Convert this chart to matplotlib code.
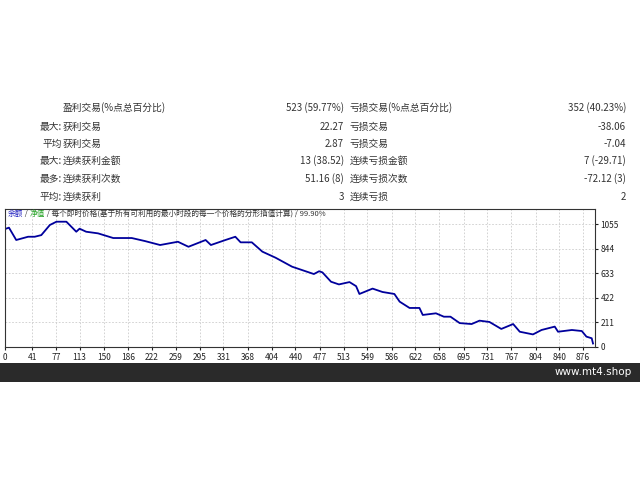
import numpy as np
import matplotlib.pyplot as plt

plt.rcParams['font.family'] = ['Noto Sans CJK SC', 'DejaVu Sans']

# stats table
left_head = ["", "最大:", "平均", "最大:", "最多:", "平均:"]
left_label = ["盈利交易(%点总百分比)", "获利交易", "获利交易", "连续获利金额", "连续获利次数", "连续获利"]
left_value = ["523 (59.77%)", "22.27", "2.87", "13 (38.52)", "51.16 (8)", "3"]
right_label = ["亏损交易(%点总百分比)", "亏损交易", "亏损交易", "连续亏损金额", "连续亏损次数", "连续亏损"]
right_value = ["352 (40.23%)", "-38.06", "-7.04", "7 (-29.71)", "-72.12 (3)", "2"]

# balance curve (trade number, balance)
trades = [0, 6, 17, 35, 45, 55, 68, 78, 93, 108, 113, 123, 141, 164, 174, 192, 212, 235,
          262, 278, 304, 312, 334, 349, 357, 374, 390, 410, 435, 468, 476, 481, 494, 506,
          522, 532, 537, 557, 572, 590, 598, 613, 628, 633, 653, 665, 675, 689, 707, 719,
          734, 752, 770, 780, 800, 813, 833, 838, 859, 874, 881, 889, 891]
balance = [1012, 1024, 918, 946, 946, 960, 1047, 1075, 1075, 989, 1015, 989, 975, 935, 935,
           935, 909, 875, 903, 860, 918, 875, 918, 946, 898, 898, 818, 766, 689, 626, 650,
           640, 560, 537, 557, 522, 455, 501, 472, 455, 389, 335, 335, 275, 289, 260, 260,
           205, 197, 226, 215, 155, 197, 131, 108, 146, 175, 131, 146, 137, 89, 75, 30]
xticks = [0, 41, 77, 113, 150, 186, 222, 259, 295, 331, 368, 404, 440, 477, 513, 549, 586,
          622, 658, 695, 731, 767, 804, 840, 876]
yticks = [0, 211, 422, 633, 844, 1055]

W, H = 640, 480
fig = plt.figure(figsize=(6.4, 4.8), dpi=100)
fig.patch.set_facecolor('white')

def fy(py):
    return 1 - py / H

rows = [108, 127, 144, 161, 179, 197]
tc = '#333333'
for i, py in enumerate(rows):
    fig.text(62 / W, fy(py), left_head[i], ha='right', va='center', fontsize=7, color=tc)
    fig.text(63 / W, fy(py), left_label[i], ha='left', va='center', fontsize=7, color=tc)
    fig.text(344 / W, fy(py), left_value[i], ha='right', va='center', fontsize=7, color=tc)
    fig.text(350 / W, fy(py), right_label[i], ha='left', va='center', fontsize=7, color=tc)
    fig.text(626 / W, fy(py), right_value[i], ha='right', va='center', fontsize=7, color=tc)

# chart
ax = fig.add_axes([5 / W, fy(347), 590 / W, (347 - 209) / H])
ax.plot(trades, balance, color='#00009c', lw=1.3)
ax.set_xlim(0, 894)
ax.set_ylim(0, 1184)
ax.set_xticks(xticks)
ax.set_yticks(yticks)
ax.tick_params(labelsize=6, length=2, pad=2, colors='#222222')
ax.yaxis.tick_right()
ax.grid(True, ls=(0, (2, 2)), color='#cccccc', lw=0.6)
for s in ax.spines.values():
    s.set_color('#333333')
    s.set_linewidth(0.8)

hy = fy(214)
t1 = fig.text(8 / W, hy, "余额", color='#2020c0', fontsize=5.5, va='center')
fig.canvas.draw()
r = fig.canvas.get_renderer()
x = t1.get_window_extent(r).x1 / W
for s, c in [(" / ", '#333333'), ("净值", '#20a020'),
             (" / 每个即时价格(基于所有可利用的最小时段的每一个价格的分形插值计算) / 99.90%", '#333333')]:
    t = fig.text(x, hy, s, color=c, fontsize=5.5, va='center')
    x = t.get_window_extent(r).x1 / W

# footer bar
bar = fig.add_axes([0, fy(382), 1, 19 / H])
bar.set_facecolor('#2a2a2a')
bar.set_xticks([])
bar.set_yticks([])
for s in bar.spines.values():
    s.set_visible(False)
fig.text(632 / W, fy(372), "www.mt4.shop", color='white', fontsize=7.5, ha='right', va='center',
         family='DejaVu Sans')

fig.savefig('out.png', dpi=100)
